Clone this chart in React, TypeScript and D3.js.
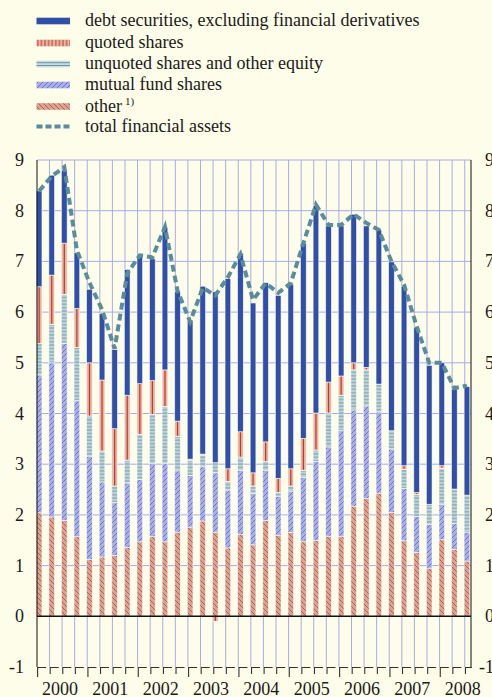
import React from 'react';
import * as d3 from 'd3';

const quarters = [
  '2000Q1','2000Q2','2000Q3','2000Q4','2001Q1','2001Q2','2001Q3','2001Q4',
  '2002Q1','2002Q2','2002Q3','2002Q4','2003Q1','2003Q2','2003Q3','2003Q4',
  '2004Q1','2004Q2','2004Q3','2004Q4','2005Q1','2005Q2','2005Q3','2005Q4',
  '2006Q1','2006Q2','2006Q3','2006Q4','2007Q1','2007Q2','2007Q3','2007Q4',
  '2008Q1','2008Q2','2008Q3'
];
const yearLabels = ['2000','2001','2002','2003','2004','2005','2006','2007','2008'];
const yTicks = [-1, 0, 1, 2, 3, 4, 5, 6, 7, 8, 9];

const other = [2.04,1.96,1.89,1.57,1.12,1.17,1.20,1.36,1.47,1.57,1.47,1.66,1.76,1.88,1.66,1.35,1.61,1.41,1.89,1.60,1.65,1.47,1.50,1.58,1.58,2.17,2.32,2.43,2.05,1.49,1.26,0.95,1.51,1.32,1.09];
const mutualFund = [2.72,3.04,3.49,2.68,2.04,1.48,1.04,1.27,1.23,1.44,1.54,1.21,1.02,1.07,1.17,1.14,1.27,1.01,0.99,0.77,0.82,1.27,1.55,1.76,2.08,1.90,1.83,1.60,1.25,1.03,0.71,0.86,0.70,0.51,0.57];
const unquoted = [0.62,0.76,0.97,1.05,0.79,0.61,0.33,0.45,0.89,0.97,1.13,0.68,0.30,0.23,0.20,0.17,0.26,0.15,0.17,0.07,0.10,0.14,0.23,0.67,0.70,0.79,0.71,0.55,0.36,0.38,0.43,0.40,0.71,0.68,0.73];
const quotedShares = [1.12,0.97,1.01,0.77,1.05,1.40,1.13,1.28,1.00,0.67,0.72,0.30,0.02,0.02,-0.10,0.25,0.50,0.26,0.39,0.28,0.34,0.63,0.73,0.61,0.38,0.14,0.05,0,0,0.07,0.04,0,0.05,0,0];
const debt = [1.89,1.97,1.44,1.10,1.45,1.31,1.56,2.48,2.51,2.40,2.81,2.55,2.73,3.31,3.37,3.75,3.52,3.35,3.14,3.61,3.64,3.85,4.09,3.08,2.96,2.93,2.79,3.04,3.33,3.54,3.26,2.74,2.03,1.97,2.14];
const total = [8.39,8.68,8.86,7.22,6.58,6.05,5.28,6.76,7.12,7.08,7.68,6.42,5.81,6.48,6.33,6.69,7.14,6.24,6.57,6.38,6.57,7.36,8.12,7.72,7.72,7.93,7.76,7.62,7.0,6.54,5.72,5.0,5.0,4.5,4.55];

const keys = ['other', 'mutualFund', 'unquoted', 'quoted', 'debt'];
const legendItems = [
  { label: 'debt securities, excluding financial derivatives', kind: 'debt' },
  { label: 'quoted shares', kind: 'quoted' },
  { label: 'unquoted shares and other equity', kind: 'unquoted' },
  { label: 'mutual fund shares', kind: 'mutualFund' },
  { label: 'other', kind: 'other', sup: '1)' },
  { label: 'total financial assets', kind: 'total' },
];

const BG = '#fdfde9';
const GRID = '#a6acea';
const DEBT = '#2f4fa9';
const QUOTED_BG = '#e8b4a4';
const QUOTED_LINE = '#c0392b';
const TOTAL_C = '#5a8d9b';
const FONT = "'Liberation Serif', 'Times New Roman', 'DejaVu Serif', serif";

export default function App() {
  const W = 492, H = 697;
  const left = 37, right = 471, top = 160, bottom = 667;

  const y = d3.scaleLinear().domain([-1, 9]).range([bottom, top]);
  const x = d3.scaleBand<string>().domain(quarters).range([36.3, 469.8]).paddingInner(0.55).paddingOuter(0);
  const bw = x.bandwidth();
  const step = x.step();

  const rows = quarters.map((q, i) => ({
    q,
    other: other[i],
    mutualFund: mutualFund[i],
    unquoted: unquoted[i],
    quoted: quotedShares[i],
    debt: debt[i],
  }));
  const series = d3.stack<any>().keys(keys).offset(d3.stackOffsetDiverging)(rows);

  const fillFor = (k: string) => {
    if (k === 'other') return 'url(#patOther)';
    if (k === 'mutualFund') return 'url(#patMF)';
    if (k === 'unquoted') return 'url(#patUnq)';
    if (k === 'quoted') return QUOTED_BG;
    return DEBT;
  };

  const line = d3.line<number>()
    .x((_, i) => (x(quarters[i]) as number) + bw / 2)
    .y((d) => y(d));

  const legendY = [21, 43, 64, 85, 106.5, 126.5];
  const textStyle = { fontFamily: FONT };

  return (
    <svg width={W} height={H} style={{ position: 'absolute', left: 0, top: 0, fontFamily: FONT }}>
      <defs>
        <pattern id="patMF" patternUnits="userSpaceOnUse" width={5} height={5}>
          <rect width={5} height={5} fill="#a9aee7" />
          <path d="M0,5 L5,0 M-1,1 L1,-1 M4,6 L6,4" stroke="#4d5ec2" strokeWidth={0.7} />
        </pattern>
        <pattern id="patOther" patternUnits="userSpaceOnUse" width={5} height={5}>
          <rect width={5} height={5} fill="#d9a393" />
          <path d="M0,0 L5,5 M-1,4 L1,6 M4,-1 L6,1" stroke="#c2463a" strokeWidth={0.8} />
        </pattern>
        <pattern id="patUnq" patternUnits="userSpaceOnUse" width={6} height={3.4}>
          <rect width={6} height={3.4} fill="#bed3da" />
          <line x1={0} x2={6} y1={1.7} y2={1.7} stroke="#6a98a7" strokeWidth={0.9} />
        </pattern>
        <pattern id="patQuoted" patternUnits="userSpaceOnUse" width={3.6} height={6}>
          <rect width={3.6} height={6} fill={QUOTED_BG} />
          <line x1={1.8} x2={1.8} y1={0} y2={6} stroke={QUOTED_LINE} strokeWidth={1} />
        </pattern>
      </defs>
      <rect x={0} y={0} width={W} height={H} fill={BG} />

      {/* legend */}
      {legendItems.map((it, i) => {
        const cy = legendY[i];
        let sw: any;
        if (it.kind === 'total') {
          sw = <line x1={36.5} x2={70} y1={cy} y2={cy} stroke={TOTAL_C} strokeWidth={4} strokeDasharray="6,3" />;
        } else if (it.kind === 'unquoted') {
          sw = (
            <g>
              <rect x={36.5} y={cy - 3.3} width={33.5} height={6.6} fill="#c9dbe1" />
              <line x1={36.5} x2={70} y1={cy - 1.3} y2={cy - 1.3} stroke="#6a98a7" strokeWidth={1} />
              <line x1={36.5} x2={70} y1={cy + 1.5} y2={cy + 1.5} stroke="#6a98a7" strokeWidth={1} />
            </g>
          );
        } else {
          const f = it.kind === 'debt' ? DEBT : it.kind === 'quoted' ? 'url(#patQuoted)' : fillFor(it.kind);
          sw = <rect x={36.5} y={cy - 3.3} width={33.5} height={6.6} fill={f} />;
        }
        return (
          <g key={it.label}>
            {sw}
            <text x={85} y={cy + 5} fontSize={18} fill="#1a1a1a" style={textStyle}>
              {it.label}
              {it.sup ? <tspan fontSize={11} dx={3} dy={-7}>{it.sup}</tspan> : null}
            </text>
          </g>
        );
      })}

      {/* horizontal grid */}
      {yTicks.filter((t) => t > 0).map((t) => (
        <line key={'h' + t} x1={left} x2={right} y1={y(t)} y2={y(t)} stroke={GRID} strokeWidth={1} />
      ))}
      {/* vertical grid */}
      {quarters.slice(1).map((q) => (
        <line key={'v' + q} x1={(x(q) as number) + 0.6} x2={(x(q) as number) + 0.6} y1={top} y2={bottom} stroke={GRID} strokeWidth={1} />
      ))}

      {/* bars */}
      {series.map((s) => (
        <g key={s.key}>
          {s.map((d: any, i: number) => {
            const v = d[1] - d[0];
            if (Math.abs(v) < 0.001) return null;
            const x0 = x(quarters[i]) as number;
            const y0 = y(Math.max(d[0], d[1]));
            const h = Math.abs(y(d[0]) - y(d[1]));
            return (
              <g key={i}>
                <rect x={x0} y={y0} width={bw} height={h} fill={fillFor(s.key as string)} stroke="#ffffff" strokeWidth={0.7} strokeOpacity={0.8} />
                {s.key === 'quoted' ? (
                  <rect x={x0 + bw / 2 - 0.6} y={y0 + 0.5} width={1.2} height={Math.max(0, h - 1)} fill={QUOTED_LINE} />
                ) : null}
              </g>
            );
          })}
        </g>
      ))}

      {/* axes */}
      <line x1={left} x2={right} y1={y(0)} y2={y(0)} stroke="#111" strokeWidth={1.5} />
      <line x1={left} x2={left} y1={top} y2={bottom} stroke="#111" strokeWidth={1} />
      <line x1={right} x2={right} y1={top} y2={bottom} stroke="#111" strokeWidth={1} />

      {/* bottom bracket ticks */}
      {quarters.map((q, i) => {
        const tx = (x(q) as number) + 1.3;
        const len = i % 4 === 0 ? 10 : 7;
        return (
          <path key={'t' + q} d={`M${tx},${bottom + len} V${bottom + 0.5} H${Math.min(tx + 8.5, right + 1)}`} fill="none" stroke="#333" strokeWidth={1.1} />
        );
      })}

      {/* total line */}
      <path d={line(total) as string} fill="none" stroke={TOTAL_C} strokeWidth={4} strokeDasharray="7,4" />

      {/* y labels */}
      {yTicks.map((t) => (
        <g key={'yl' + t}>
          <text x={24} y={y(t) + 6} fontSize={18} textAnchor="end" fill="#1a1a1a" style={textStyle}>{t}</text>
          <text x={494} y={y(t) + 6} fontSize={18} textAnchor="end" fill="#1a1a1a" style={textStyle}>{t}</text>
        </g>
      ))}

      {/* year labels */}
      {yearLabels.map((yr, k) => {
        const x0 = (x(quarters[0]) as number) + k * 4 * step;
        const cx = x0 + (3 * step + bw) / 2 + 2;
        return (
          <text key={yr} x={cx} y={695} fontSize={18} textAnchor="middle" fill="#1a1a1a" style={textStyle}>{yr}</text>
        );
      })}
    </svg>
  );
}
